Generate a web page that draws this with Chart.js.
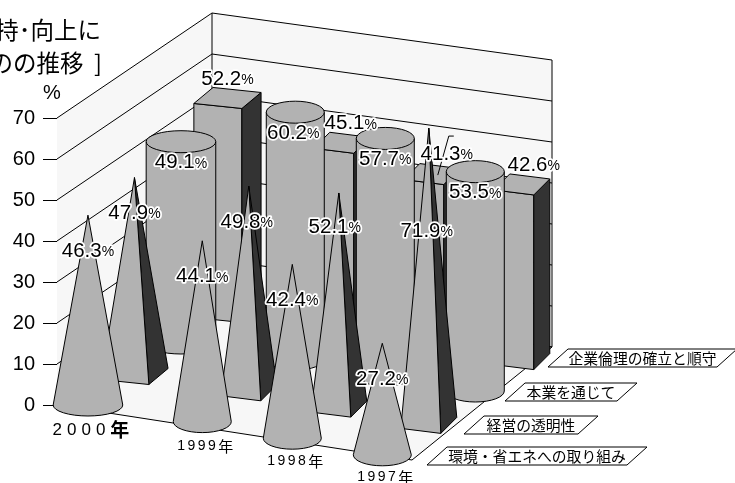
<!DOCTYPE html>
<html>
<head>
<meta charset="utf-8">
<style>
  html, body { margin: 0; padding: 0; background: #fff; }
  canvas { display: block; }
</style>
<script src="https://cdn.jsdelivr.net/npm/chart.js@4/dist/chart.umd.min.js"></script>
</head>
<body>
<canvas id="grafico" width="735" height="483"></canvas>
<script>
const years = ["2000", "1999", "1998", "1997"];
const yearSlots = [0, 1.27, 2.27, 3.27];
const categories = ["環境・省エネへの取り組み", "経営の透明性", "本業を通じて", "企業倫理の確立と順守"];
const environment = [46.3, 44.1, 42.4, 27.2];
const transparency = [47.9, 49.8, 52.1, 71.9];
const coreBusiness = [49.1, 60.2, 57.7, 53.5];
const ethics = [52.2, 45.1, 41.3, 42.6];
const titleLines = ["持･向上に", "のの推移  ]"];

const FILL = "#b2b2b2";
const DARK = "#333333";
const WALL = "#f7f7f7";
const SANS = '"Liberation Sans", Arial, sans-serif';
const CJK = '"Noto Sans CJK JP", sans-serif';

// floor directions: one row deeper, one column along
const DEPTH_X = 46.5, DEPTH_Y = -31, COLUMN_Y = 16.6, CONVERGE = -0.3;

// floor outline relative to the bottom-left of the plot area
const floorBL = [155, -105], floorBR = [495, -58], floorFR = [355, 55];

// shape of each row, back rows are painted first
const rowShapes = ["cone", "pyramid", "cylinder", "box"];

// label offset from the top of each mark
const labelDy = [36, 36, 21, -19];
const labelNudge = [
  [[0, 0], [0, 0], [0, 0], [0, 0]],
  [[0, 0], [-2, 0], [-4, -2], [-2, 67]],
  [[0, 0], [-2, 0], [0, 0], [0, 0]],
  [[0, 0], [9, 0], [15, -1], [12, 0]],
];

// category tags on the right: bottom-left corner, width of the slanted box
const tagBoxes = [
  [427, 465, 200],
  [464, 434, 114],
  [505, 401, 112],
  [548, 367, 169],
];
const yearLabelDy = [25, 25, 23, 22];

const withPixel = (path, ctx, fill, stroke) => {
  ctx.beginPath();
  path();
  if (fill) { ctx.fillStyle = fill; ctx.fill(); }
  if (stroke !== false) { ctx.strokeStyle = "#000"; ctx.lineWidth = 1; ctx.stroke(); }
};

const poly = (ctx, pts, fill, stroke) => {
  withPixel(() => {
    pts.forEach((p, i) => (i ? ctx.lineTo(p[0], p[1]) : ctx.moveTo(p[0], p[1])));
    ctx.closePath();
  }, ctx, fill, stroke);
};

const drawBox = (ctx, c, top, s) => {
  const u = [20 * s, 2.5], v = [8 * s, -8];
  const corner = (a, b, y) => [c[0] + a * u[0] + b * v[0], y + a * u[1] + b * v[1]];
  poly(ctx, [corner(-1, -1, c[1]), corner(1, -1, c[1]), corner(1, -1, top), corner(-1, -1, top)], FILL);
  poly(ctx, [corner(1, -1, c[1]), corner(1, 1, c[1]), corner(1, 1, top), corner(1, -1, top)], DARK);
  poly(ctx, [corner(-1, -1, top), corner(1, -1, top), corner(1, 1, top), corner(-1, 1, top)], FILL);
};

const drawPyramid = (ctx, c, top, s) => {
  const u = [20 * s, 2.5], v = [8 * s, -8];
  const corner = (a, b) => [c[0] + a * u[0] + b * v[0], c[1] + a * u[1] + b * v[1]];
  poly(ctx, [corner(1, -1), corner(1, 1), [c[0], top]], DARK);
  poly(ctx, [corner(-1, -1), corner(1, -1), [c[0], top]], FILL);
};

const drawCylinder = (ctx, c, top, s) => {
  const rx = 29 * s, ry = 11;
  withPixel(() => {
    ctx.moveTo(c[0] - rx, top);
    ctx.lineTo(c[0] - rx, c[1]);
    ctx.ellipse(c[0], c[1], rx, ry, 0, Math.PI, 0, true);
    ctx.lineTo(c[0] + rx, top);
    ctx.closePath();
  }, ctx, FILL);
  withPixel(() => ctx.ellipse(c[0], top, rx, ry, 0, 0, Math.PI * 2), ctx, FILL);
};

const drawCone = (ctx, c, top, s) => {
  const rx = 29 * s, ry = 11;
  withPixel(() => {
    ctx.moveTo(c[0], top);
    ctx.lineTo(c[0] - rx, c[1]);
    ctx.ellipse(c[0], c[1], rx, ry, 0, Math.PI, 0, true);
    ctx.closePath();
  }, ctx, FILL);
};

const painters = { box: drawBox, pyramid: drawPyramid, cylinder: drawCylinder, cone: drawCone };

const haloText = (ctx, text, x, y) => {
  ctx.lineJoin = "round";
  ctx.strokeStyle = "#fff";
  ctx.lineWidth = 3.5;
  ctx.strokeText(text, x, y);
  ctx.fillStyle = "#000";
  ctx.fillText(text, x, y);
};

const percentLabel = (ctx, value, cx, cy) => {
  const num = value.toFixed(1);
  ctx.textAlign = "left";
  ctx.textBaseline = "middle";
  ctx.font = "20.5px " + SANS;
  const w1 = ctx.measureText(num).width;
  ctx.font = "14px " + SANS;
  const w2 = ctx.measureText("%").width;
  const left = cx - (w1 + w2) / 2;
  ctx.font = "20.5px " + SANS;
  haloText(ctx, num, left, cy);
  ctx.font = "14px " + SANS;
  haloText(ctx, "%", left + w1, cy + 1);
};

const scene = {
  id: "scene",
  // walls and floor go under the marks
  beforeDatasetsDraw(chart) {
    const { ctx, chartArea, scales: { y } } = chart;
    const x0 = chartArea.left, y0 = chartArea.bottom;
    const fl = [x0, y0];
    const bl = [x0 + floorBL[0], y0 + floorBL[1]];
    const br = [x0 + floorBR[0], y0 + floorBR[1]];
    const fr = [x0 + floorFR[0], y0 + floorFR[1]];
    const lift = (p, v) => [p[0], p[1] + y.getPixelForValue(v) - y0];
    ctx.save();
    poly(ctx, [fl, bl, lift(bl, 70), lift(fl, 70)], WALL, false);
    poly(ctx, [bl, br, lift(br, 70), lift(bl, 70)], WALL, false);
    poly(ctx, [fl, bl, br, fr], WALL);
    y.ticks.forEach((t) => {
      withPixel(() => {
        const a = lift(fl, t.value), b = lift(bl, t.value), c = lift(br, t.value);
        ctx.moveTo(a[0], a[1]);
        ctx.lineTo(b[0], b[1]);
        ctx.lineTo(c[0], c[1]);
      }, ctx);
    });
    withPixel(() => {
      ctx.moveTo(bl[0], bl[1]);
      ctx.lineTo(bl[0], lift(bl, 70)[1]);
      ctx.moveTo(br[0], br[1]);
      ctx.lineTo(br[0], lift(br, 70)[1]);
    }, ctx);
    ctx.restore();
  },
  afterDatasetsDraw(chart) {
    const { ctx, scales: { y } } = chart;
    const y0 = y.getPixelForValue(0);
    const base = (col, row, el) => [el.x + row * DEPTH_X, y0 + col * COLUMN_Y + row * DEPTH_Y + row * col * CONVERGE];
    const rowTop = (col, row, el) => base(col, row, el)[1] + el.y - y0;
    ctx.save();
    for (let row = rowShapes.length - 1; row >= 0; row--) {
      chart.getDatasetMeta(row).data.forEach((el, col) => {
        const s = col === 0 ? 1.2 : 1;
        painters[rowShapes[row]](ctx, base(col, row, el), rowTop(col, row, el), s);
      });
    }

    // leader line of the 41.3 label
    const lead = chart.getDatasetMeta(3).data[2];
    const leadX = lead.x + 3 * DEPTH_X, leadY = rowTop(2, 3, lead);
    withPixel(() => {
      ctx.moveTo(leadX + 6, leadY + 1);
      ctx.lineTo(leadX + 17, leadY - 38);
      ctx.lineTo(leadX + 22, leadY - 38);
    }, ctx);

    for (let row = rowShapes.length - 1; row >= 0; row--) {
      const ds = chart.data.datasets[row];
      chart.getDatasetMeta(row).data.forEach((el, col) => {
        const n = labelNudge[row][col];
        percentLabel(ctx, ds.data[col].y, el.x + row * DEPTH_X + n[0],
          rowTop(col, row, el) + labelDy[row] + n[1]);
      });
    }

    // year labels under the front row
    const front = chart.getDatasetMeta(0).data;
    ctx.textBaseline = "middle";
    ctx.fillStyle = "#000";
    years.forEach((yr, col) => {
      const first = col === 0;
      const cx = front[col].x + 3, cy = y0 + col * COLUMN_Y + yearLabelDy[col];
      const digits = (first ? "17px " : "14px ") + SANS;
      const kanji = (first ? "bold 19px " : "15px ") + CJK;
      const gap = first ? "5px" : "2.5px";
      ctx.textAlign = "left";
      ctx.font = digits;
      ctx.letterSpacing = gap;
      const w = ctx.measureText(yr).width;
      ctx.letterSpacing = "0px";
      ctx.font = kanji;
      const k = ctx.measureText("年").width;
      const left = cx - (w + k) / 2;
      ctx.font = digits;
      ctx.letterSpacing = gap;
      ctx.fillText(yr, left, cy);
      ctx.letterSpacing = "0px";
      ctx.font = kanji;
      ctx.fillText("年", left + w, cy);
    });

    // slanted category tags
    categories.forEach((name, i) => {
      const [bx, by, w] = tagBoxes[i];
      poly(ctx, [[bx, by], [bx + 20, by - 18], [bx + 20 + w, by - 18], [bx + w, by]], "#fff");
      ctx.font = "14.8px " + CJK;
      ctx.textAlign = "center";
      ctx.fillStyle = "#000";
      ctx.fillText(name, bx + 10 + w / 2, by - 9);
    });

    // title, running off the left edge, and the unit of the value axis
    ctx.textAlign = "right";
    ctx.font = "23.5px " + CJK;
    ctx.fillText(titleLines[0], 101, 30);
    ctx.fillText(titleLines[1], 102, 63);
    ctx.textAlign = "center";
    ctx.font = "20px " + SANS;
    ctx.fillText("%", 52, 93);
    ctx.restore();
  },
};

const seriesPoints = (values) => values.map((v, i) => ({ x: yearSlots[i], y: v }));

new Chart(document.getElementById("grafico"), {
  type: "scatter",
  data: {
    datasets: [environment, transparency, coreBusiness, ethics].map((values, i) => ({
      label: categories[i],
      data: seriesPoints(values),
      pointRadius: 0,
    })),
  },
  options: {
    responsive: false,
    animation: false,
    layout: { padding: { top: 118, bottom: 78, left: 0, right: 323 } },
    plugins: { legend: { display: false }, title: { display: false }, tooltip: { enabled: false } },
    scales: {
      x: { type: "linear", display: false, min: -0.344, max: 3.6 },
      y: {
        min: 0,
        max: 70,
        afterFit: (s) => { s.width = 57; },
        border: { color: "#000" },
        grid: { drawOnChartArea: false, color: "#000", tickLength: 14 },
        ticks: { stepSize: 10, color: "#000", padding: 8, font: { family: SANS, size: 20 } },
      },
    },
  },
  plugins: [scene],
});
</script>
</body>
</html>
